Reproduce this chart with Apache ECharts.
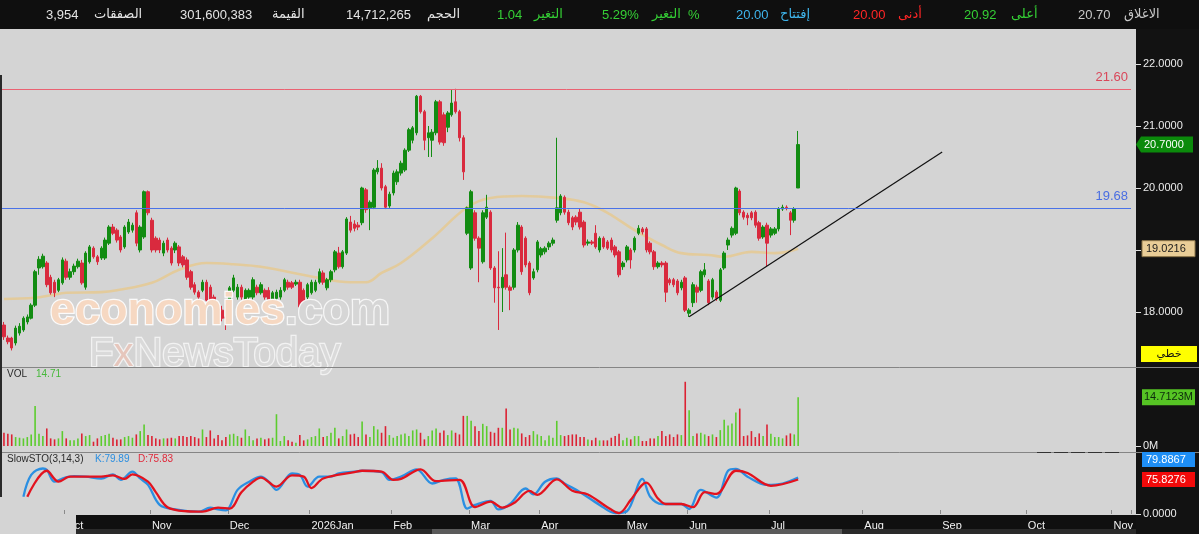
<!DOCTYPE html>
<html><head><meta charset="utf-8">
<script src="https://cdn.jsdelivr.net/npm/echarts@6/dist/echarts.min.js"></script>
<style>html,body{margin:0;padding:0;background:#d4d4d4;overflow:hidden}#c{width:1199px;height:534px}</style>
</head><body><div id="c"></div><script>
// ---------- DATA ----------
const monthNames = ['Oct','Nov','Dec','2026Jan','Feb','Mar','Apr','May','Jun','Jul','Aug','Sep','Oct','Nov'];
const sessionsPerMonth = [16,22,20,21,21,20,18,22,16,21,24,20,22,22,5]; // first = partial Sep
// [open, close, low, high]
const ohlc = [
[17.79,17.60,17.55,17.84],[17.58,17.52,17.48,17.62],[17.58,17.42,17.38,17.60],[17.50,17.74,17.46,17.78],
[17.66,17.77,17.62,17.82],[17.71,17.90,17.68,17.93],[17.84,17.92,17.80,17.96],[17.90,18.11,17.88,18.14],
[18.11,18.65,18.08,18.68],[18.71,18.85,18.60,18.90],[18.73,18.90,18.70,18.94],[18.79,18.44,18.40,18.82],
[18.56,18.31,18.28,18.60],[18.48,18.31,18.24,18.52],[18.35,18.52,18.32,18.55],[18.47,18.84,18.44,18.88],
[18.82,18.56,18.52,18.86],[18.56,18.65,18.52,18.70],[18.65,18.74,18.60,18.78],[18.73,18.82,18.70,18.86],
[18.79,18.47,18.44,18.84],[18.40,18.95,18.36,18.98],
[18.81,19.05,18.78,19.08],[19.03,18.89,18.86,19.06],[18.89,18.81,18.76,18.92],[18.87,19.03,18.84,19.06],
[18.87,19.16,18.84,19.20],[19.11,19.37,19.08,19.40],[19.37,19.27,19.24,19.42],[19.32,19.16,19.12,19.35],
[19.21,19.00,18.96,19.24],[19.05,19.37,19.02,19.40],[19.29,19.45,19.26,19.50],[19.32,19.40,19.28,19.44],
[19.60,19.11,19.06,19.64],[19.00,19.37,18.96,19.40],[19.21,19.94,19.18,19.96],[19.94,19.60,19.56,19.96],
[19.48,19.00,18.96,19.52],[19.19,19.00,18.96,19.22],[19.16,19.00,18.95,19.20],[18.95,19.11,18.90,19.15],
[19.16,19.00,18.96,19.20],[19.03,18.79,18.75,19.06],[19.00,19.11,18.95,19.14],[19.05,18.79,18.74,19.08],
[18.89,18.76,18.72,18.92],[18.84,18.56,18.52,18.88],[18.65,18.40,18.36,18.68],[18.44,18.32,18.28,18.48],
[18.32,18.24,18.20,18.35],[18.35,18.48,18.32,18.52],[18.48,18.19,18.15,18.52],[18.40,18.16,18.12,18.44],
[18.24,18.16,18.12,18.28],[18.03,17.90,17.86,18.06],[18.03,17.90,17.85,18.10],[17.92,17.90,17.71,18.00],
[18.15,18.39,18.12,18.42],[18.35,18.55,18.32,18.60],[18.24,18.40,18.20,18.45],[18.40,18.24,18.20,18.44],
[18.19,18.35,18.15,18.38],[18.24,18.35,18.20,18.38],[18.24,18.52,18.20,18.56],[18.40,18.31,18.27,18.44],
[18.31,18.44,18.28,18.48],[18.35,18.24,18.20,18.38],[18.35,18.11,18.08,18.40],[18.19,18.31,18.15,18.34],
[18.22,18.32,18.18,18.36],[18.24,18.35,18.20,18.40],[18.35,18.52,18.32,18.55],[18.48,18.40,18.36,18.52],
[18.47,18.40,18.37,18.50],[18.45,18.48,18.42,18.52],[18.48,18.08,18.05,18.52],[18.35,18.15,18.10,18.38],
[18.24,18.44,18.20,18.47],[18.31,18.48,18.28,18.52],[18.35,18.48,18.32,18.52],[18.48,18.65,18.45,18.70],
[18.63,18.48,18.44,18.67],[18.39,18.52,18.35,18.55],[18.52,18.65,18.48,18.68],
[18.68,18.97,18.64,19.00],[18.95,18.73,18.70,19.05],[18.73,18.97,18.70,19.00],[18.95,19.50,18.92,19.53],
[19.45,19.32,19.28,19.55],[19.42,19.35,19.30,19.48],[19.40,19.37,19.32,19.45],[19.44,20.00,19.40,20.02],
[19.97,19.65,19.60,20.00],[19.68,19.77,19.32,19.80],[19.69,20.29,19.66,20.32],[20.26,20.32,20.22,20.45],
[20.32,20.00,19.96,20.40],[20.02,19.69,19.66,20.05],[19.71,19.90,19.68,19.94],[19.92,20.24,19.88,20.28],
[20.10,20.26,20.05,20.30],[20.24,20.40,20.20,20.44],[20.29,20.61,20.26,20.64],[20.61,20.94,20.58,20.97],
[20.77,20.97,20.72,21.00],[20.89,21.48,20.85,21.50],[21.48,21.23,21.20,21.50],[21.23,20.77,20.61,21.26],
[20.81,20.89,20.50,21.00],[20.77,20.90,20.50,20.95],[20.89,21.39,20.85,21.42],[21.39,20.74,20.70,21.42],
[21.18,20.73,20.68,21.22],[20.98,21.21,20.90,21.24],[21.18,21.37,21.15,21.58],[21.39,21.23,21.20,21.60],
[21.23,20.81,20.75,21.26],[20.81,20.26,20.13,20.85],[19.27,19.68,19.24,19.70],
[18.71,19.94,18.68,19.97],[19.60,19.19,19.15,19.64],[19.19,19.03,18.48,19.22],[18.81,19.60,18.78,19.64],
[19.53,19.69,19.50,19.89],[19.61,18.71,18.68,19.64],[18.71,18.39,18.15,18.74],[18.40,18.39,17.71,18.98],
[18.39,18.56,18.00,19.03],[18.60,18.40,18.36,19.28],[18.40,18.35,18.03,18.43],[18.40,19.00,18.36,19.03],
[19.00,19.40,18.96,19.45],[19.37,18.65,18.60,19.40],[19.19,18.76,18.72,19.22],[18.79,18.31,18.27,18.82],
[18.55,18.65,18.52,18.70],[18.68,19.13,18.64,19.16],[18.92,19.02,18.88,19.05],[18.97,19.03,18.93,19.06],
[19.05,19.11,19.00,19.14],[19.11,19.16,19.07,19.20],[19.48,19.68,19.44,20.81],[19.60,19.87,19.56,19.90],
[19.85,19.61,19.57,19.88],[19.61,19.44,19.40,19.65],[19.52,19.37,19.32,19.55],[19.53,19.45,19.40,19.56],
[19.61,19.37,19.33,19.66],[19.45,19.08,19.04,19.48],[19.11,19.13,19.07,19.17],[19.13,19.11,19.08,19.16],
[19.27,19.05,19.02,19.40],[19.00,19.19,18.96,19.22],[19.19,19.05,19.02,19.22],[19.13,19.03,19.00,19.16],
[19.16,19.00,18.96,19.20],[19.05,18.92,18.88,19.08],[18.97,18.60,18.56,19.00],[18.73,18.79,18.68,18.82],
[18.84,19.05,18.80,19.08],[19.00,18.84,18.70,19.03],[19.00,19.19,18.96,19.22],[19.27,19.35,19.24,19.40],
[19.34,19.29,19.25,19.37],[19.34,19.00,18.96,19.37],[19.11,18.97,18.93,19.14],[18.97,18.73,18.68,19.00],
[18.73,18.79,18.70,18.82],[18.79,18.76,18.72,18.82],[18.79,18.32,18.16,18.82],[18.52,18.47,18.43,18.55],
[18.52,18.44,18.40,18.55],[18.50,18.31,18.27,18.53],[18.39,18.48,18.35,18.52],[18.55,18.03,18.00,18.58],
[17.98,18.03,17.92,18.06],[18.15,18.44,18.08,18.48],[18.40,18.32,18.15,18.44],[18.35,18.65,18.32,18.68],
[18.60,18.68,18.56,18.79],[18.50,18.15,18.11,18.53],[18.24,18.52,18.20,18.55],[18.32,18.22,18.18,18.35],
[18.19,18.68,18.16,18.71],[18.71,18.95,18.68,18.98],[19.08,19.16,19.00,19.20],[19.24,19.35,19.20,19.38],
[19.27,20.00,19.24,20.02],[19.95,19.60,19.56,19.98],[19.61,19.53,19.49,19.64],[19.56,19.52,19.40,19.60],
[19.60,19.52,19.48,19.63],[19.61,19.40,19.36,19.64],[19.44,19.19,19.15,19.47],[19.21,19.37,19.18,19.40],
[19.40,19.11,18.73,19.44],[19.24,19.34,19.20,19.37],[19.27,19.34,19.24,19.37],[19.34,19.66,19.30,19.69],
[19.66,19.69,19.63,19.73],[19.69,19.68,19.64,19.72],[19.60,19.48,19.24,19.63],[19.48,19.66,19.44,19.69],
[20.00,20.70,20.00,20.92]
];
// volume, millions
const volumes = [
4.0,3.7,3.5,2.7,2.5,2.3,2.7,3.5,12.1,3.7,3.0,5.3,2.3,2.0,2.3,4.5,2.3,1.7,1.7,2.3,
3.8,3.0,3.3,1.3,2.3,3.0,3.3,3.7,2.5,2.0,2.0,2.7,3.0,2.5,3.5,4.5,6.5,3.3,3.0,2.3,
2.0,2.3,2.3,2.5,2.3,3.0,3.0,2.7,3.0,2.7,2.3,5.0,2.7,4.7,2.3,3.3,1.7,2.7,3.5,3.7,
3.0,2.5,5.0,3.0,1.7,2.3,2.5,2.0,2.3,2.5,9.6,1.5,3.0,1.7,1.3,1.0,3.3,1.7,2.0,2.7,
3.0,5.3,2.7,3.0,4.0,5.5,2.3,3.0,5.0,3.5,3.7,2.7,7.4,3.5,2.7,6.0,5.0,4.0,6.0,3.3,
2.5,
3.0,3.5,3.8,3.0,4.7,5.0,4.0,2.0,3.0,4.7,5.3,4.0,4.7,3.3,4.7,4.0,3.5,9.1,9.1,7.6,
6.0,4.5,6.7,6.0,4.3,4.0,5.5,5.5,11.3,5.0,5.5,5.3,3.8,2.7,3.3,4.5,3.5,3.0,1.7,3.2,
2.5,7.6,3.3,3.0,3.3,3.5,3.5,2.7,2.7,2.0,1.7,2.5,1.7,1.7,1.7,2.5,3.0,3.7,1.7,2.5,
2.0,3.0,3.0,1.5,1.5,2.3,2.3,3.0,4.5,3.0,3.5,2.7,3.5,3.3,19.4,10.8,3.0,3.8,4.0,3.5,
3.0,3.5,2.7,4.8,7.9,6.2,6.8,10.1,11.3,3.0,3.2,4.5,2.7,3.8,3.0,6.5,3.7,2.7,2.7,2.3,
3.2,3.8,3.5,14.7123
];
// moving average [session index, value]
const maIdx = [0,8,12,16,25,29,38,45,52,59,66,80,89,93,97,102,110,119,125,133,142,149,155,162,169,174,181,185,192,198,204];
const maVal = [18.21,18.23,18.27,18.31,18.32,18.35,18.47,18.68,18.79,18.77,18.73,18.56,18.48,18.48,18.63,18.79,19.19,19.69,19.84,19.87,19.84,19.77,19.60,19.32,19.08,18.95,18.92,18.89,18.97,18.95,19.0216];
// slow stochastic %K and %D
const kIdx = [5,7,10,11,13,15,18,21,25,28,30,33,35,37,40,44,50,53,55,57,60,63,66,68,70,74,76,78,81,84,86,90,92,97,99,102,106,110,113,116,119,121,125,127,130,134,136,139,142,144,148,153,157,160,164,166,169,174,176,179,183,186,188,191,196,200,204];
const kVal = [38,86,100,97,71,78,83,82,78,87,75,93,78,64,20,10,5,14,10,8,53,71,82,71,53,89,86,60,82,82,89,93,95,92,75,82,98,67,75,78,12,20,29,10,22,56,43,71,78,67,48,20,2,6,77,38,22,22,11,53,36,95,99,82,64,67,79.8867];
const dIdx = [6,11,14,17,25,28,31,33,37,39,42,47,51,55,58,61,64,66,70,74,77,79,82,90,92,97,100,102,107,111,117,121,125,128,131,135,137,142,146,150,155,158,161,165,168,170,174,177,180,183,188,191,197,204];
const dVal = [38,95,71,82,82,85,77,87,71,48,15,6,5,14,12,48,71,80,60,85,82,57,78,92,95,93,75,77,98,72,75,15,27,14,24,51,42,76,51,43,15,2,31,69,34,22,22,15,48,44,95,90,62,75.8276];
const trendIdx = [176, 241];
const trendVal = [17.924, 20.581];
const levels = [21.60, 19.68];
const levelColors = ['#ea6272', '#4a72e8'];
const levelLabelColors = ['#d9475a', '#4a6ee2'];
const priceTicks = [18, 19, 20, 21, 22];
const lastClose = 20.70, lastMA = 19.0216, lastVol = 14.7123, lastK = 79.8867, lastD = 75.8276;
const topBar = [
  ['3,954',46,'#e4e4e4'],['الصفقات',94,'#e4e4e4'],['301,600,383',180,'#e4e4e4'],['القيمة',272,'#e4e4e4'],
  ['14,712,265',346,'#e4e4e4'],['الحجم',427,'#e4e4e4'],['1.04',497,'#35d035'],['التغير',534,'#35d035'],
  ['5.29%',602,'#35d035'],['التغير',652,'#35d035'],['%',688,'#35d035'],['20.00',736,'#3fb6ee'],['إفتتاح',780,'#3fb6ee'],
  ['20.00',853,'#ff2626'],['أدنى',898,'#ff2626'],['20.92',964,'#35d035'],['أعلى',1011,'#35d035'],
  ['20.70',1078,'#c8c8c8'],['الاغلاق',1124,'#c8c8c8']
];

// ---------- BUILD ----------
const labelAt = [];
sessionsPerMonth.forEach((c, m) => { for (let i = 0; i < c; i++) labelAt.push(i === 0 && m > 0 ? monthNames[m - 1] : ''); });
const cats = labelAt.map((_, i) => 'd' + i);
const UP = '#128c12', DOWN = '#d92a3e';
const VUP = '#5ccc2e', VDOWN = '#dc2233';
const volData = volumes.map((v, i) => ({ value: v, itemStyle: { color: ohlc[i][1] >= ohlc[i][0] ? VUP : VDOWN } }));
const pairs = (a, b) => a.map((x, i) => [x, b[i]]);
const NUM = 'Liberation Sans, Arial, sans-serif';
const AR = 'DejaVu Sans, sans-serif';

const chart = echarts.init(document.getElementById('c'), null, { renderer: 'canvas' });
const xBase = (gi, show) => ({
  type: 'category', gridIndex: gi, data: cats, boundaryGap: true,
  axisLine: { show: false },
  axisTick: show ? { show: true, inside: true, length: 4, interval: (i) => labelAt[i] !== '', lineStyle: { color: '#8a8a8a' } } : { show: false },
  axisLabel: show ? { show: true, interval: (i) => labelAt[i] !== '', formatter: (v, i) => labelAt[i], color: '#f2f2f2', fontSize: 11, fontFamily: NUM, align: 'left', margin: 6 } : { show: false },
  splitLine: { show: false }
});
const yBase = (gi, min, max, vals, fmt) => ({
  type: 'value', gridIndex: gi, position: 'right', offset: 5, min, max, scale: true,
  axisLine: { show: false },
  axisTick: { show: true, length: 5, customValues: vals, lineStyle: { color: '#e0e0e0' } },
  axisLabel: { show: true, customValues: vals, formatter: fmt, color: '#ececec', fontSize: 11, fontFamily: NUM, margin: 7 },
  splitLine: { show: false }
});

chart.setOption({
  backgroundColor: '#d4d4d4',
  animation: false,
  grid: [
    { left: 2, right: 68, top: 30, height: 337 },
    { left: 2, right: 68, top: 368, height: 78 },
    { left: 2, right: 68, top: 453, height: 61 }
  ],
  xAxis: [xBase(0, false), xBase(1, false), xBase(2, true)],
  yAxis: [
    yBase(0, 17.113, 22.548, priceTicks, (v) => v.toFixed(4)),
    yBase(1, 0, 23.56, [0], () => '0M'),
    yBase(2, 0, 134, [0], (v) => v.toFixed(4))
  ],
  series: [
    { name: 'MA', type: 'line', xAxisIndex: 0, yAxisIndex: 0, data: pairs(maIdx, maVal), smooth: 0.4, showSymbol: false, z: 1,
      lineStyle: { color: '#e3cb9c', width: 2.6 } },
    { name: 'price', type: 'candlestick', xAxisIndex: 0, yAxisIndex: 0, data: ohlc, barWidth: 3, z: 3,
      itemStyle: { color: UP, color0: DOWN, borderColor: UP, borderColor0: DOWN, borderWidth: 1 } },
    { name: 'trend', type: 'line', xAxisIndex: 0, yAxisIndex: 0, data: pairs(trendIdx, trendVal), showSymbol: false, z: 4,
      lineStyle: { color: '#111', width: 1.2 } },
    { name: 'vol', type: 'bar', xAxisIndex: 1, yAxisIndex: 1, data: volData, barWidth: 1.6 },
    { name: 'K', type: 'line', xAxisIndex: 2, yAxisIndex: 2, data: pairs(kIdx, kVal), smooth: 0.35, showSymbol: false,
      lineStyle: { color: '#2b8fe2', width: 2.3 } },
    { name: 'D', type: 'line', xAxisIndex: 2, yAxisIndex: 2, data: pairs(dIdx, dVal), smooth: 0.35, showSymbol: false,
      lineStyle: { color: '#e3121e', width: 2.3 } }
  ]
});

// ---------- DECORATIONS ----------
const py = (axis, v) => chart.convertToPixel({ yAxisIndex: axis }, v);
const g = [];
const over = (el) => { el.zlevel = 1; g.push(el); };
// horizontal price levels, positioned with the price axis scale
levels.forEach((lv, i) => {
  const y = Math.round(py(0, lv)) + 0.5;
  g.push({ type: 'line', z: 5, shape: { x1: 2, y1: y, x2: 1131, y2: y }, style: { stroke: levelColors[i], lineWidth: 1 } });
  g.push({ type: 'text', z: 5, x: 1128, y: y - 12, style: { text: lv.toFixed(2), fill: levelLabelColors[i], font: '13px ' + NUM, align: 'right', textAlign: 'right', verticalAlign: 'middle', textVerticalAlign: 'middle' } });
});
// panels
g.push({ type: 'rect', shape: { x: 1136, y: 29, width: 63, height: 505 }, style: { fill: '#121212' }, z: -5 });
g.push({ type: 'rect', shape: { x: 76, y: 515, width: 1060, height: 19 }, style: { fill: '#101010' }, z: -5 });
over({ type: 'rect', shape: { x: 0, y: 0, width: 1199, height: 29 }, style: { fill: '#0f0f0f' }, z: 50 });
over({ type: 'rect', shape: { x: 76, y: 529, width: 1060, height: 5 }, style: { fill: '#2a2a2a' }, z: 50 });
over({ type: 'rect', shape: { x: 432, y: 529, width: 410, height: 5 }, style: { fill: '#5a5a5a' }, z: 51 });
over({ type: 'rect', shape: { x: 0, y: 515, width: 76, height: 19 }, style: { fill: '#d4d4d4' }, z: 52 });
over({ type: 'rect', shape: { x: 0, y: 75, width: 2, height: 422 }, style: { fill: '#2a2a2a' }, z: 52 });
[367, 452].forEach(y => over({ type: 'line', shape: { x1: 0, y1: y + 0.5, x2: 1199, y2: y + 0.5 }, style: { stroke: '#858585', lineWidth: 1 }, z: 40 }));
over({ type: 'line', shape: { x1: 1037, y1: 452.5, x2: 1120, y2: 452.5 }, style: { stroke: '#333', lineWidth: 1, lineDash: [14, 3] }, z: 41 });
// top bar texts
topBar.forEach(([t, x, c]) => {
  const ar = /[\u0600-\u06FF]/.test(t);
  over({ type: 'text', x, y: 15, z: 55, style: { text: t, fill: c, font: (ar ? '13px ' + AR : '13px ' + NUM), textAlign: 'left', verticalAlign: 'middle', textVerticalAlign: 'middle' } });
});
// panel captions
const cap = (t, x, y, c) => over({ type: 'text', x, y, z: 55, style: { text: t, fill: c, font: '10px ' + NUM, verticalAlign: 'middle', textVerticalAlign: 'middle' } });
cap('VOL', 7, 374, '#2a2a2a'); cap('14.71', 36, 374, '#46b83a');
cap('SlowSTO(3,14,3)', 7, 459, '#2a2a2a'); cap('K:79.89', 95, 459, '#2a8ee0'); cap('D:75.83', 138, 459, '#e0283a');
// watermark
over({ type: 'text', x: 50, y: 312, z: 30, style: {
  text: '{a|economies}{b|.com}', verticalAlign: 'middle', textVerticalAlign: 'middle',
  rich: { a: { fill: '#f6d8c2', stroke: '#fbfbfb', lineWidth: 2.5, font: 'bold 45px ' + NUM },
          b: { fill: '#d6d6d6', stroke: '#f6f6f6', lineWidth: 2.5, font: 'bold 45px ' + NUM } } } });
over({ type: 'text', x: 89, y: 355, z: 30, style: {
  text: '{a|F}{c|x}{a|NewsToday}', verticalAlign: 'middle', textVerticalAlign: 'middle',
  rich: { a: { fill: '#dadada', stroke: '#f2f2f2', lineWidth: 2.5, font: '40px ' + NUM },
          c: { fill: '#e6c6bc', stroke: '#f2f2f2', lineWidth: 2.5, font: '40px ' + NUM } } } });
// value tags
const tagText = (t, x, y, c) => over({ type: 'text', x, y, z: 60, style: { text: t, fill: c, font: '11px ' + NUM, verticalAlign: 'middle', textVerticalAlign: 'middle' } });
const yC = py(0, lastClose);
over({ type: 'polygon', z: 59, shape: { points: [[1136, yC], [1141, yC - 8], [1193, yC - 8], [1193, yC + 8], [1141, yC + 8]] }, style: { fill: '#0b8a0b' } });
tagText(lastClose.toFixed(4), 1144, yC, '#ffffff');
const yM = py(0, lastMA);
over({ type: 'rect', z: 59, shape: { x: 1142, y: yM - 8, width: 53, height: 16 }, style: { fill: '#e9cd97', stroke: '#8a7448', lineWidth: 1 } });
tagText(lastMA.toFixed(4), 1146, yM, '#1a1a1a');
over({ type: 'rect', z: 59, shape: { x: 1141, y: 346, width: 56, height: 16 }, style: { fill: '#ffff00' } });
over({ type: 'text', x: 1169, y: 354, z: 60, style: { text: 'خطي', fill: '#111', font: '11px ' + AR, align: 'center', textAlign: 'center', verticalAlign: 'middle', textVerticalAlign: 'middle' } });
const yV = py(1, lastVol);
over({ type: 'rect', z: 59, shape: { x: 1142, y: yV - 8, width: 53, height: 16 }, style: { fill: '#56c424' } });
tagText(lastVol.toFixed(4) + 'M', 1144, yV, '#0d2a0d');
const yD = py(2, lastD);
const yK = yD - 20;
over({ type: 'rect', z: 59, shape: { x: 1142, y: yK - 7.5, width: 53, height: 15 }, style: { fill: '#1e8ef5' } });
tagText(lastK.toFixed(4), 1146, yK, '#ffffff');
over({ type: 'rect', z: 59, shape: { x: 1142, y: yD - 7.5, width: 53, height: 15 }, style: { fill: '#f20a0a' } });
tagText(lastD.toFixed(4), 1146, yD, '#ffffff');

chart.setOption({ graphic: { elements: g } });
</script></body></html>
